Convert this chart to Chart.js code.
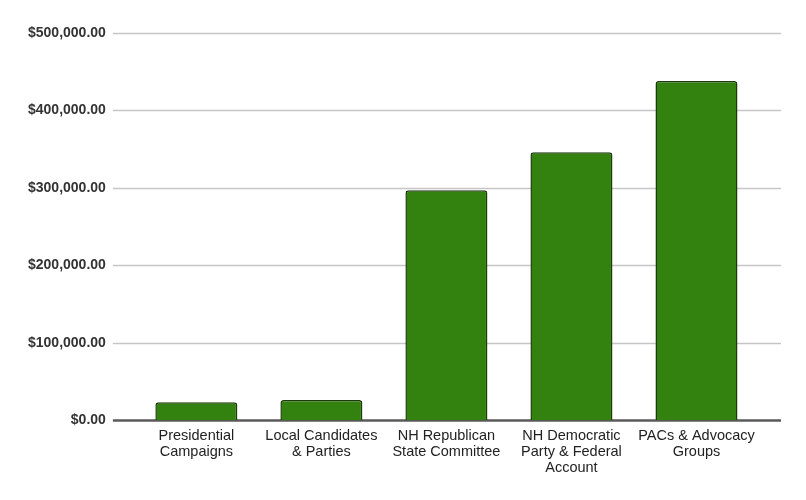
<!DOCTYPE html>
<html>
<head>
<meta charset="utf-8">
<script src="https://cdn.jsdelivr.net/npm/chart.js@4"></script>
<style>
  html, body { margin: 0; padding: 0; background: #fff; }
  #wrap { width: 806px; height: 500px; }
</style>
</head>
<body>
<div id="wrap"><canvas id="chart"></canvas></div>
<script>
/* ── Data ── */
const categories = [
  ['Presidential', 'Campaigns'],
  ['Local Candidates', '& Parties'],
  ['NH Republican', 'State Committee'],
  ['NH Democratic', 'Party & Federal', 'Account'],
  ['PACs & Advocacy', 'Groups'],
];
const amounts  = [23000, 26000, 297000, 346000, 438000];
const yTicks   = [0, 100000, 200000, 300000, 400000, 500000];

/* ── Gridlines wider than the bar area, plus dark baseline ── */
const gridPlugin = {
  id: 'wideGrid',
  beforeDatasetsDraw(chart) {
    const { ctx, chartArea, scales: { y } } = chart;
    const x0 = chartArea.left - 21, x1 = chartArea.right + 22;
    ctx.save();
    yTicks.forEach(v => {
      const py = Math.round(y.getPixelForValue(v)) + 0.5;
      ctx.beginPath();
      ctx.moveTo(x0, py);
      ctx.lineTo(x1, py);
      if (v === 0) { ctx.strokeStyle = '#5a5a5a'; ctx.lineWidth = 2.5; }
      else         { ctx.strokeStyle = '#c6c6c6'; ctx.lineWidth = 1.6; }
      ctx.stroke();
    });
    ctx.restore();
  },
};

new Chart(document.getElementById('chart'), {
  type: 'bar',
  data: {
    labels: categories,
    datasets: [{
      data:            amounts,
      backgroundColor: '#33820f',
      borderColor:     '#1c3a0c',
      borderWidth:     1.5,
      borderRadius:    { topLeft: 3, topRight: 3 },
      borderSkipped:   'bottom',
      categoryPercentage: 1,
      barPercentage:   0.656,
    }],
  },
  plugins: [gridPlugin],
  options: {
    responsive: true,
    maintainAspectRatio: false,
    animation: false,
    layout: { padding: { top: 33, right: 47, bottom: 16, left: 0 } },
    plugins: { legend: { display: false }, tooltip: { enabled: false } },
    scales: {
      x: {
        grid:   { display: false, drawTicks: false },
        border: { display: false },
        ticks: {
          padding: 8,
          maxRotation: 0,
          autoSkip: false,
          color: '#222',
          font: { family: 'Liberation Sans, Arial', size: 14.5, lineHeight: 1.1 },
        },
      },
      y: {
        min: 0,
        max: 500000,
        afterBuildTicks: axis => { axis.ticks = yTicks.map(v => ({ value: v })); },
        afterFit: axis => { axis.paddingTop = 0; },
        grid:   { display: false, drawTicks: false },
        border: { display: false },
        ticks: {
          padding: 28,
          color: '#333',
          font: { family: 'Liberation Sans, Arial', size: 14, weight: 'bold' },
          callback: v => '$' + Number(v).toLocaleString('en-US', { minimumFractionDigits: 2, maximumFractionDigits: 2 }),
        },
      },
    },
  },
});
</script>
</body>
</html>
